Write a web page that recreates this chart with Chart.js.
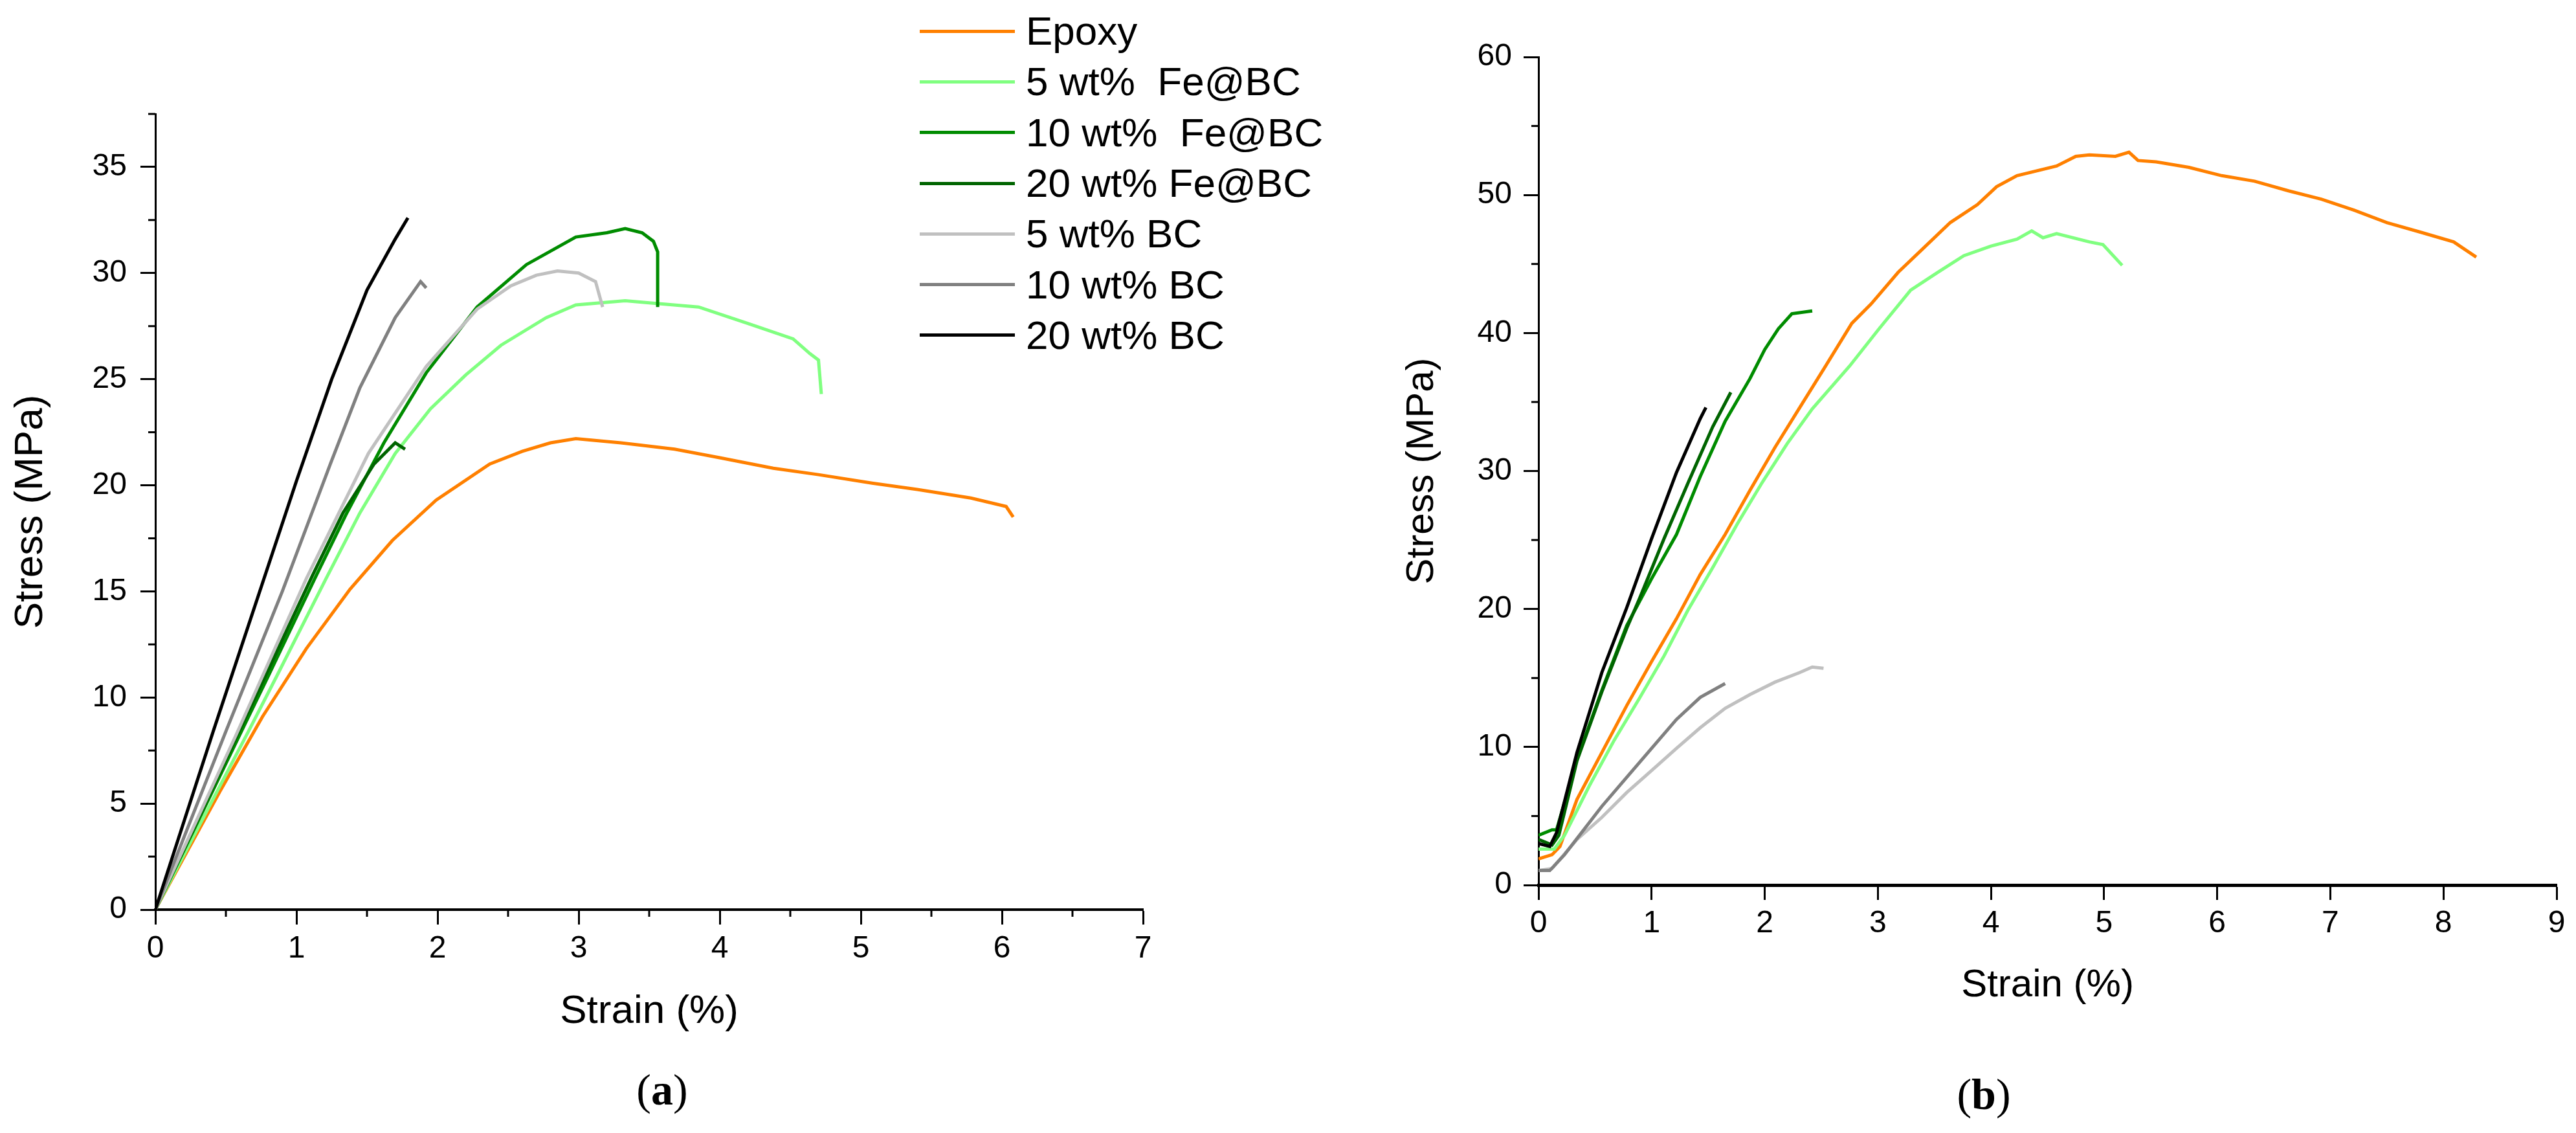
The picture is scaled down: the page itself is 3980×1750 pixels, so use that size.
<!DOCTYPE html>
<html>
<head>
<meta charset="utf-8">
<script src="https://cdn.jsdelivr.net/npm/chart.js@4.4.1/dist/chart.umd.min.js"></script>
<style>
  html, body { margin: 0; padding: 0; background: #fff; }
  body { width: 3980px; height: 1750px; position: relative; overflow: hidden;
         font-family: "Liberation Sans", Arial, sans-serif; }
  canvas { position: absolute; top: 0; }
  #legend { position: absolute; left: 1421px; top: 9px; }
  .row { display: flex; align-items: center; height: 78.3px; }
  .swatch { width: 147px; height: 5px; margin-right: 17px; }
  .row span.txt { font-size: 62px; line-height: 1; white-space: pre; color: #000; }
  .panel { position: absolute; transform: translate(-50%, -50%);
           font-family: "Liberation Serif", "Times New Roman", serif; font-size: 68px; }
</style>
</head>
<body>
<canvas id="left" width="1950" height="1750" style="left:0px"></canvas>
<canvas id="right" width="2030" height="1750" style="left:1950px"></canvas>
<div id="legend"></div>
<div class="panel" style="left:1023px; top:1683px">(<b>a</b>)</div>
<div class="panel" style="left:3065px; top:1690px">(<b>b</b>)</div>
<script>
// series names, same order in both panels
const seriesNames = ["Epoxy", "5 wt%  Fe@BC", "10 wt%  Fe@BC", "20 wt% Fe@BC",
                     "5 wt% BC", "10 wt% BC", "20 wt% BC"];
const seriesColors = ["#ff8000", "#80ff80", "#008c00", "#006400", "#c0c0c0", "#808080", "#000000"];

// panel (a): [strain %, stress MPa]
const epoxyA = [[0,0],[0.46,5.6],[0.76,9.1],[1.07,12.3],[1.38,15.1],[1.68,17.4],[1.99,19.3],[2.37,21.0],
  [2.6,21.6],[2.8,22.0],[2.98,22.2],[3.3,22.0],[3.68,21.7],[4.0,21.3],[4.38,20.8],[4.7,20.5],
  [5.08,20.1],[5.4,19.8],[5.78,19.4],[6.03,19.0],[6.08,18.5]];
const fe5A = [[0,0],[0.66,8.4],[0.86,11.0],[1.21,15.6],[1.45,18.7],[1.7,21.5],[1.95,23.6],[2.2,25.2],
  [2.45,26.6],[2.77,27.9],[2.98,28.5],[3.33,28.7],[3.5,28.6],[3.85,28.4],[4.21,27.6],[4.52,26.9],
  [4.64,26.2],[4.7,25.9],[4.72,24.3]];
const fe10A = [[0,0],[0.61,8.4],[0.8,11.0],[1.13,15.6],[1.35,18.6],[1.62,22.0],[1.92,25.3],[2.28,28.4],
  [2.63,30.4],[2.98,31.7],[3.2,31.9],[3.33,32.1],[3.45,31.9],[3.53,31.5],[3.56,31.0],[3.56,28.4]];
const fe20A = [[0,0],[0.6,8.5],[0.8,11.3],[1.11,15.7],[1.33,18.7],[1.55,21.0],[1.7,22.0],[1.77,21.7]];
const bc5A = [[0,0],[0.57,8.2],[1.07,15.6],[1.51,21.5],[1.92,25.6],[2.28,28.3],[2.52,29.4],[2.7,29.9],
  [2.85,30.1],[3.0,30.0],[3.12,29.6],[3.17,28.4]];
const bc10A = [[0,0],[0.5,8.4],[0.9,15.0],[1.24,21.0],[1.45,24.6],[1.7,27.9],[1.88,29.6],[1.92,29.3]];
const bc20A = [[0,0],[0.41,8.4],[0.76,15.4],[1.0,20.2],[1.25,25.0],[1.5,29.2],[1.7,31.6],[1.79,32.6]];

// panel (b)
const epoxyB = [[0,1.9],[0.12,2.2],[0.19,2.8],[0.34,6.2],[0.56,9.6],[0.78,13.0],[1.0,16.2],[1.22,19.3],
  [1.43,22.5],[1.65,25.4],[1.87,28.6],[2.09,31.7],[2.31,34.6],[2.53,37.5],[2.77,40.7],[2.94,42.1],
  [3.18,44.4],[3.41,46.2],[3.64,48.0],[3.88,49.3],[4.05,50.6],[4.23,51.4],[4.58,52.1],[4.75,52.8],
  [4.87,52.9],[5.1,52.8],[5.22,53.1],[5.3,52.5],[5.46,52.4],[5.75,52.0],[6.04,51.4],[6.33,51.0],
  [6.63,50.3],[6.92,49.7],[7.21,48.9],[7.5,48.0],[7.8,47.3],[8.09,46.6],[8.29,45.5]];
const fe5B = [[0,2.6],[0.14,2.6],[0.23,3.6],[0.45,7.2],[0.67,10.5],[0.89,13.5],[1.11,16.6],[1.32,19.9],
  [1.54,23.0],[1.76,26.2],[1.98,29.2],[2.2,32.0],[2.42,34.5],[2.75,37.6],[3.01,40.3],[3.29,43.1],
  [3.53,44.4],[3.76,45.6],[4.0,46.3],[4.23,46.8],[4.36,47.4],[4.46,46.9],[4.58,47.2],[4.87,46.6],
  [4.99,46.4],[5.16,44.9]];
const fe10B = [[0,3.6],[0.12,4.0],[0.16,4.0],[0.34,9.1],[0.56,14.1],[0.78,18.8],[1.0,22.2],[1.22,25.4],
  [1.43,29.6],[1.65,33.6],[1.87,36.7],[2.0,38.8],[2.12,40.3],[2.24,41.4],[2.42,41.6]];
const fe20B = [[0,3.3],[0.12,2.9],[0.18,3.6],[0.34,9.0],[0.56,14.0],[0.78,18.6],[0.89,20.7],[1.11,25.1],
  [1.32,29.1],[1.54,33.2],[1.7,35.7]];
const bc5B = [[0,1.05],[0.12,1.2],[0.34,3.3],[0.56,4.9],[0.78,6.7],[1.0,8.3],[1.22,9.9],[1.43,11.4],
  [1.65,12.8],[1.87,13.8],[2.09,14.7],[2.31,15.4],[2.42,15.8],[2.52,15.7]];
const bc10B = [[0,1.05],[0.1,1.05],[0.23,2.2],[0.56,5.7],[0.78,7.8],[1.0,9.9],[1.22,12.0],[1.43,13.6],[1.65,14.6]];
const bc20B = [[0,3.0],[0.1,2.8],[0.16,3.8],[0.34,9.6],[0.56,15.4],[0.78,20.1],[1.0,25.1],[1.22,29.9],
  [1.43,33.8],[1.48,34.6]];

const seriesA = [epoxyA, fe5A, fe10A, fe20A, bc5A, bc10A, bc20A];
const seriesB = [epoxyB, fe5B, fe10B, fe20B, bc5B, bc10B, bc20B];

const xTitle = "Strain (%)";
const yTitle = "Stress (MPa)";

Chart.defaults.font.family = '"Liberation Sans", Arial, sans-serif';
Chart.defaults.color = "#000";

const isMajor = (v, step) => Math.abs(v / step - Math.round(v / step)) < 1e-6;

// short minor tick marks, drawn through each scale
const minorTicks = {
  id: "minorTicks",
  afterDraw(chart, args, opts) {
    const ctx = chart.ctx;
    ctx.save();
    ctx.strokeStyle = "#000";
    ctx.lineWidth = 3;
    for (const id of Object.keys(opts.major || {})) {
      const scale = chart.scales[id];
      scale.ticks.forEach((t) => {
        if (isMajor(t.value, opts.major[id])) return;
        const p = scale.getPixelForValue(t.value);
        ctx.beginPath();
        if (scale.isHorizontal()) {
          ctx.moveTo(p, scale.top);
          ctx.lineTo(p, scale.top + opts.length);
        } else {
          ctx.moveTo(scale.right, p);
          ctx.lineTo(scale.right - opts.length, p);
        }
        ctx.stroke();
      });
    }
    ctx.restore();
  },
};

function makeDatasets(series) {
  return series.map((pts, i) => ({
    label: seriesNames[i],
    data: pts.map(([x, y]) => ({ x, y })),
    borderColor: seriesColors[i],
    backgroundColor: seriesColors[i],
    borderWidth: 5,
    showLine: true,
    pointRadius: 0,
    tension: 0,
    order: series.length - i,
  }));
}

function axis(cfg) {
  return {
    type: "linear",
    min: cfg.min,
    max: cfg.max,
    afterFit(scale) {
      if (scale.isHorizontal()) scale.height = cfg.size;
      else scale.width = cfg.size;
    },
    border: { display: true, color: "#000", width: cfg.border },
    grid: {
      drawOnChartArea: false,
      drawTicks: true,
      tickLength: 23,
      tickWidth: 3,
      tickColor: (c) => (isMajor(c.tick.value, cfg.major) ? "#000" : "rgba(0,0,0,0)"),
    },
    ticks: {
      stepSize: cfg.step,
      autoSkip: false,
      maxRotation: 0,
      padding: cfg.pad,
      font: { size: 48 },
      callback: (v) => (isMajor(v, cfg.major) ? String(v) : ""),
    },
    title: {
      display: true,
      text: cfg.title,
      font: { size: cfg.titleSize },
      padding: 0,
    },
  };
}

function makeChart(id, series, opt) {
  return new Chart(document.getElementById(id), {
    type: "scatter",
    data: { datasets: makeDatasets(series) },
    options: {
      responsive: false,
      devicePixelRatio: 1,
      animation: false,
      events: [],
      layout: { padding: opt.padding },
      plugins: {
        legend: { display: false },
        tooltip: { enabled: false },
        minorTicks: { major: { x: opt.x.major, y: opt.y.major }, length: 11 },
      },
      scales: { x: axis(opt.x), y: axis(opt.y) },
    },
    plugins: [minorTicks],
  });
}

makeChart("left", seriesA, {
  padding: { left: 11, top: 176, right: 184, bottom: 150 },
  x: { min: 0, max: 7, step: 0.5, major: 1, size: 195, border: 4, pad: 9, title: xTitle, titleSize: 62 },
  y: { min: 0, max: 37.5, step: 2.5, major: 5, size: 229, border: 3, pad: 21, title: yTitle, titleSize: 62 },
});

makeChart("right", seriesB, {
  padding: { left: 211, top: 88, right: 30, bottom: 192 },
  x: { min: 0, max: 9, step: 1, major: 1, size: 191, border: 5, pad: 8, title: xTitle, titleSize: 60 },
  y: { min: 0, max: 60, step: 5, major: 10, size: 216, border: 3, pad: 18, title: yTitle, titleSize: 60 },
});

// legend built from the series arrays
const legend = document.getElementById("legend");
seriesNames.forEach((name, i) => {
  const row = document.createElement("div");
  row.className = "row";
  const sw = document.createElement("span");
  sw.className = "swatch";
  sw.style.background = seriesColors[i];
  const txt = document.createElement("span");
  txt.className = "txt";
  txt.textContent = name;
  row.appendChild(sw);
  row.appendChild(txt);
  legend.appendChild(row);
});
</script>
</body>
</html>
